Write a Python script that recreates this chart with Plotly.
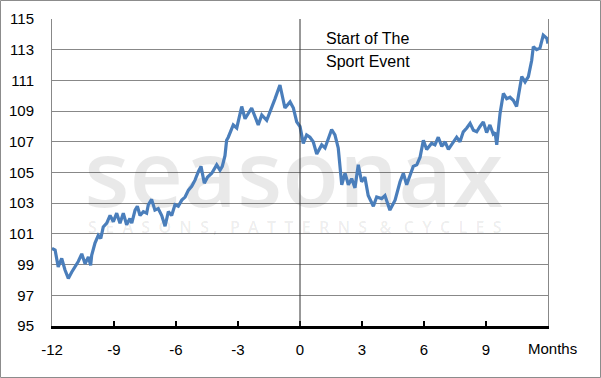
import plotly.graph_objects as go

months = [-12.00, -11.85, -11.70, -11.53, -11.37, -11.21, -11.05, -10.89, -10.73, -10.56,
          -10.40, -10.24, -10.13, -10.08, -9.92, -9.76, -9.64, -9.52, -9.35, -9.19,
          -9.03, -8.87, -8.71, -8.55, -8.39, -8.23, -8.14, -7.98, -7.87, -7.74,
          -7.58, -7.42, -7.34, -7.18, -7.02, -6.86, -6.69, -6.53, -6.37, -6.21,
          -6.05, -5.89, -5.72, -5.56, -5.40, -5.24, -5.08, -4.92, -4.79, -4.63,
          -4.47, -4.27, -4.03, -3.87, -3.76, -3.63, -3.55, -3.47, -3.23, -3.06,
          -2.82, -2.66, -2.34, -2.02, -1.85, -1.61, -1.37, -1.21, -0.97, -0.73,
          -0.48, -0.32, -0.16, 0.00, 0.16, 0.32, 0.48, 0.64, 0.81, 1.05,
          1.21, 1.53, 1.69, 1.85, 2.02, 2.18, 2.34, 2.50, 2.66, 2.82,
          2.98, 3.14, 3.30, 3.55, 3.71, 3.95, 4.11, 4.35, 4.60, 4.84,
          5.00, 5.16, 5.48, 5.65, 5.81, 5.97, 6.13, 6.37, 6.53, 6.69,
          6.86, 7.02, 7.18, 7.42, 7.58, 7.74, 7.90, 8.07, 8.23, 8.39,
          8.55, 8.71, 8.87, 9.03, 9.19, 9.35, 9.44, 9.52, 9.68, 9.84,
          10.00, 10.16, 10.32, 10.48, 10.65, 10.73, 10.89, 11.05, 11.21, 11.29,
          11.45, 11.61, 11.77, 11.94, 12.00]

values = [100.06, 99.95, 98.85, 99.4, 98.65, 98.1, 98.5, 98.85, 99.2, 99.7,
          99.05, 99.5, 98.95, 99.6, 100.4, 100.9, 100.7, 101.45, 101.7, 102.2,
          101.8, 102.35, 101.7, 102.35, 101.6, 102.0, 101.7, 102.55, 102.8, 102.2,
          102.45, 102.35, 102.9, 103.25, 102.55, 102.65, 102.2, 101.5, 102.45, 102.2,
          102.9, 102.8, 103.2, 103.4, 103.85, 104.1, 104.5, 105.05, 105.4, 104.3,
          104.7, 104.95, 105.5, 105.15, 105.4, 106.1, 107.1, 107.3, 108.1, 107.9,
          109.3, 108.5, 109.2, 108.1, 108.75, 108.4, 109.2, 109.8, 110.7, 109.2,
          109.6, 109.2, 108.3, 108.0, 106.9, 107.45, 107.3, 107.0, 106.2, 106.8,
          106.6, 107.8, 107.45, 106.6, 104.2, 104.95, 104.2, 104.6, 104.0, 105.5,
          104.4, 104.7, 103.5, 102.8, 103.4, 103.3, 103.5, 102.55, 103.2, 104.4,
          104.95, 104.2, 105.4, 105.5, 106.0, 107.1, 106.5, 106.9, 106.8, 107.3,
          106.7, 107.0, 106.5, 107.0, 107.3, 107.0, 107.65, 107.9, 108.2, 107.75,
          107.65, 108.0, 108.3, 107.6, 108.1, 107.5, 107.6, 106.8, 108.85, 110.15,
          109.8, 109.9, 109.7, 109.3, 110.6, 111.25, 110.9, 111.25, 112.3, 113.2,
          113.0, 113.1, 113.95, 113.75, 113.4]

x_ticks = [-12, -9, -6, -3, 0, 3, 6, 9]
y_ticks = [95, 97, 99, 101, 103, 105, 107, 109, 111, 113, 115]

W, H = 601, 378
ML, MR, MT, MB = 52, 53, 19, 52
PW, PH = W - ML - MR, H - MT - MB

FONT = "Liberation Sans"
WM_COLOR = "rgba(0,0,0,0.085)"

fig = go.Figure()

# watermark (under the data line)
fig.add_trace(go.Scatter(
    x=[-0.3], y=[104.3], mode="text", text=["seasonax"],
    textfont=dict(family="Open Sans", size=93, color=WM_COLOR, weight=600),
    hoverinfo="skip", showlegend=False))
fig.add_trace(go.Scatter(
    x=[-0.25], y=[101.35], mode="text",
    text=["S  E  A  S  O  N  S ,   P  A  T  T  E  R  N  S   &   C  Y  C  L  E  S"],
    textfont=dict(family="Open Sans", size=16, color=WM_COLOR, weight=600),
    hoverinfo="skip", showlegend=False))

fig.add_trace(go.Scatter(
    x=months, y=values, mode="lines",
    line=dict(color="#4a7ebb", width=3.2),
    showlegend=False))

fig.add_shape(type="line", xref="x", yref="y", x0=0, x1=0, y0=95, y1=115,
              line=dict(color="#333333", width=1))

# outer border of the picture
fig.add_shape(type="rect", xref="paper", yref="paper",
              x0=(0.5 - ML) / PW, x1=(W - 0.5 - ML) / PW,
              y0=(MT + PH - (H - 0.5)) / PH,
              y1=(MT + PH - 0.5) / PH,
              line=dict(color="#8c8c8c", width=1), layer="below")

fig.add_annotation(x=1.16, y=113.76, xref="x", yref="y", text="Start of The",
                   showarrow=False, xanchor="left", yanchor="middle",
                   font=dict(family=FONT, size=16, color="#000000"))
fig.add_annotation(x=1.16, y=112.2, xref="x", yref="y", text="Sport Event",
                   showarrow=False, xanchor="left", yanchor="middle",
                   font=dict(family=FONT, size=16, color="#000000"))
fig.add_annotation(x=12, y=0, xref="x", yref="paper", text="Months",
                   showarrow=False, xanchor="center", yanchor="middle",
                   xshift=4, yshift=-22,
                   font=dict(family=FONT, size=15, color="#000000"))

fig.update_layout(
    width=W, height=H,
    margin=dict(l=ML, r=MR, t=MT, b=MB, pad=0, autoexpand=False),
    paper_bgcolor="white", plot_bgcolor="white",
    font=dict(family=FONT, size=15, color="#000000"),
    xaxis=dict(range=[-12, 12], tickvals=x_ticks, ticktext=[str(v) for v in x_ticks],
               showgrid=False, zeroline=False, automargin=False,
               showline=True, linecolor="#000000", linewidth=3,
               ticks="inside", ticklen=5, tickwidth=2, tickcolor="#000000",
               ticklabelstandoff=8),
    yaxis=dict(range=[95, 115], tickvals=y_ticks, automargin=False,
               showgrid=True, gridcolor="#888888", gridwidth=1,
               zeroline=False, showline=True, linecolor="#888888", linewidth=1,
               mirror=True, ticks="", ticklabelstandoff=14),
)

fig.write_html("out.html",
               config={"displayModeBar": False},
               post_script="document.body.style.margin='0';document.body.style.overflow='hidden';")
